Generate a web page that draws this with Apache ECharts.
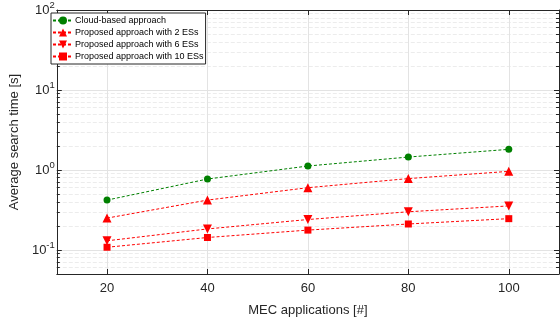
<!DOCTYPE html>
<html>
<head>
<meta charset="utf-8">
<script src="https://cdn.jsdelivr.net/npm/echarts@6/dist/echarts.min.js"></script>
<style>
  html, body { margin: 0; padding: 0; background: #fff; }
  #chart { width: 560px; height: 322px; }
</style>
</head>
<body>
<div id="chart"></div>
<script>
// data
const xValues = [20, 40, 60, 80, 100];
const cloudValues = [0.42, 0.77, 1.12, 1.45, 1.81];
const es2Values = [0.25, 0.42, 0.60, 0.78, 0.96];
const es6Values = [0.13, 0.183, 0.24, 0.30, 0.355];
const es10Values = [0.108, 0.143, 0.177, 0.211, 0.246];

const xTicks = [20, 40, 60, 80, 100];
const yTicks = [0.1, 1, 10, 100];
const yMinorTicks = [
  0.06, 0.07, 0.08, 0.09,
  0.2, 0.3, 0.4, 0.5, 0.6, 0.7, 0.8, 0.9,
  2, 3, 4, 5, 6, 7, 8, 9,
  20, 30, 40, 50, 60, 70, 80, 90
];

const seriesNames = [
  'Cloud-based approach',
  'Proposed approach with 2 ESs',
  'Proposed approach with 6 ESs',
  'Proposed approach with 10 ESs'
];

const axisColor = '#262626';
const font = 'Liberation Sans, Arial, sans-serif';

const chart = echarts.init(document.getElementById('chart'));

const pairs = vals => xValues.map((x, i) => [x, vals[i]]);

const makeSeries = (name, vals, color, symbol, size, rotate) => ({
  name,
  type: 'line',
  data: pairs(vals),
  xAxisIndex: 0,
  yAxisIndex: 0,
  symbol,
  symbolSize: size,
  symbolRotate: rotate || 0,
  itemStyle: { color },
  lineStyle: { color, width: 1, type: [3, 2] },
  z: 5
});

const logAxisBase = {
  type: 'log',
  logBase: 10,
  min: 0.05,
  max: 100
};

chart.setOption({
  animation: false,
  textStyle: { fontFamily: font },
  grid: { left: 51, right: 1, top: 10, bottom: 47 },
  legend: {
    orient: 'vertical',
    left: 51,
    top: 13,
    itemWidth: 20,
    itemHeight: 10,
    itemGap: 3,
    padding: [3, 2, 3, 1],
    backgroundColor: '#fff',
    borderColor: axisColor,
    borderWidth: 1,
    borderRadius: 0,
    textStyle: { fontSize: 9, color: '#000', padding: [0, 0, 0, -3] },
    data: seriesNames
  },
  xAxis: [
    {
      type: 'value',
      min: 10,
      max: 110,
      position: 'bottom',
      name: 'MEC applications [#]',
      nameLocation: 'middle',
      nameGap: 30,
      nameTextStyle: { fontSize: 13, color: axisColor },
      axisLine: { show: true, onZero: false, lineStyle: { color: axisColor, width: 1 } },
      axisTick: { show: true, inside: true, length: 5, customValues: xTicks, lineStyle: { color: axisColor } },
      axisLabel: { customValues: xTicks, fontSize: 13, color: axisColor, margin: 8 },
      splitLine: { show: true, lineStyle: { color: '#e3e3e3', width: 1 } }
    },
    {
      type: 'value',
      min: 10,
      max: 110,
      position: 'top',
      axisLine: { show: true, onZero: false, lineStyle: { color: axisColor, width: 1 } },
      axisTick: { show: true, inside: true, length: 5, customValues: xTicks, lineStyle: { color: axisColor } },
      axisLabel: { show: false },
      splitLine: { show: false }
    }
  ],
  yAxis: [
    Object.assign({}, logAxisBase, {
      position: 'left',
      name: 'Average search time [s]',
      nameLocation: 'middle',
      nameGap: 31,
      nameTextStyle: { fontSize: 13, color: axisColor },
      axisLine: { show: true, onZero: false, lineStyle: { color: axisColor, width: 1 } },
      axisTick: { show: true, inside: true, length: 5, customValues: yTicks, lineStyle: { color: axisColor } },
      axisLabel: {
        customValues: yTicks,
        margin: 2,
        color: axisColor,
        formatter: v => '{b|10}{s|' + Math.round(Math.log10(v)) + '}',
        rich: {
          b: { fontSize: 13, color: axisColor, fontFamily: font },
          s: { fontSize: 9.5, color: axisColor, fontFamily: font, padding: [0, 0, 9, 0] }
        }
      },
      splitLine: { show: true, lineStyle: { color: '#e3e3e3', width: 1 } }
    }),
    Object.assign({}, logAxisBase, {
      position: 'left',
      axisLine: { show: false },
      axisTick: { show: true, inside: true, length: 3, customValues: yMinorTicks, lineStyle: { color: axisColor } },
      axisLabel: { show: false },
      splitLine: { show: true, lineStyle: { color: '#ececec', width: 1, type: [4, 2] } }
    }),
    Object.assign({}, logAxisBase, {
      position: 'right',
      axisLine: { show: true, onZero: false, lineStyle: { color: axisColor, width: 1 } },
      axisTick: { show: true, inside: true, length: 5, customValues: yTicks, lineStyle: { color: axisColor } },
      axisLabel: { show: false },
      splitLine: { show: false }
    }),
    Object.assign({}, logAxisBase, {
      position: 'right',
      axisLine: { show: false },
      axisTick: { show: true, inside: true, length: 3, customValues: yMinorTicks, lineStyle: { color: axisColor } },
      axisLabel: { show: false },
      splitLine: { show: false }
    })
  ],
  series: [
    makeSeries(seriesNames[0], cloudValues, '#008000', 'circle', 7),
    makeSeries(seriesNames[1], es2Values, '#ff0000', 'triangle', 9),
    makeSeries(seriesNames[2], es6Values, '#ff0000', 'triangle', 9, 180),
    makeSeries(seriesNames[3], es10Values, '#ff0000', 'rect', 7)
  ]
});
</script>
</body>
</html>
